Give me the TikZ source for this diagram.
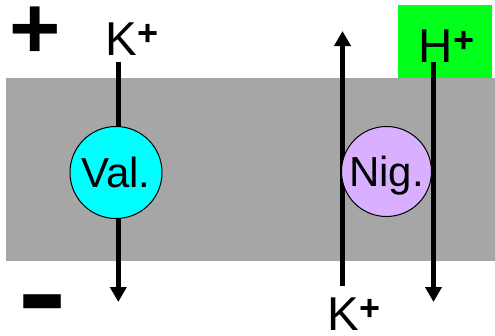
\documentclass[tikz,border=0pt]{standalone}
\usepackage{fontspec}
\setmainfont{Liberation Sans}
\usetikzlibrary{arrows.meta}
\definecolor{memgray}{RGB}{166,166,166}
\definecolor{valcyan}{RGB}{0,255,255}
\definecolor{nigpurple}{RGB}{217,176,255}
\definecolor{hgreen}{RGB}{0,255,26}
\newcommand{\ionp}{\raisebox{10pt}{\fontsize{36}{36}\selectfont\bfseries +}}
\begin{document}
\begin{tikzpicture}[x=1pt,y=-1pt,
  ion/.style={inner sep=0pt, anchor=base, font=\fontsize{47.5}{48}\selectfont},
  sign/.style={inner sep=0pt, anchor=center, font=\fontsize{88}{88}\selectfont\bfseries},
  flux/.style={line width=4.7pt, -{Triangle[width=16pt,length=15pt]}},
  carrier/.style={circle, draw=black, line width=1pt, minimum size=92pt, inner sep=0pt,
    text depth=0pt, font=\fontsize{42}{42}\selectfont}]
\useasboundingbox (0,0) rectangle (495,335);
% membrane and proton compartment
\fill[memgray] (6,78) rectangle (495,261);
\fill[hgreen] (398,5) rectangle (492,78);
% signs
\node[sign] (plus) at (35.5,33) {+};
\node[sign] (minus) at (42.5,317) {\scalebox{0.86}[1.6]{–}};
% ion labels
\node[ion] (kin) at (132,55) {K\ionp};
\node[ion] (hout) at (446.5,62) {H\ionp};
\node[ion] (kout) at (354,330) {K\ionp};
% line end points
\coordinate (valtop) at (118.3,62);
\coordinate (valbot) at (118.3,302);
\coordinate (kupbot) at (342.5,286);
\coordinate (kuptop) at (342.5,31);
\coordinate (htop) at (433.5,62);
\coordinate (hbot) at (433.5,302);
% fluxes
\draw[flux] (valtop) -- (valbot);
\draw[flux] (kupbot) -- (kuptop);
\draw[flux] (htop) -- (hbot);
% carriers
\node[carrier, fill=valcyan] (val) at (116,172.5) {Val.};
\node[carrier, fill=nigpurple, minimum size=90pt] (nig) at (386.5,171.5) {Nig.};
\end{tikzpicture}
\end{document}
